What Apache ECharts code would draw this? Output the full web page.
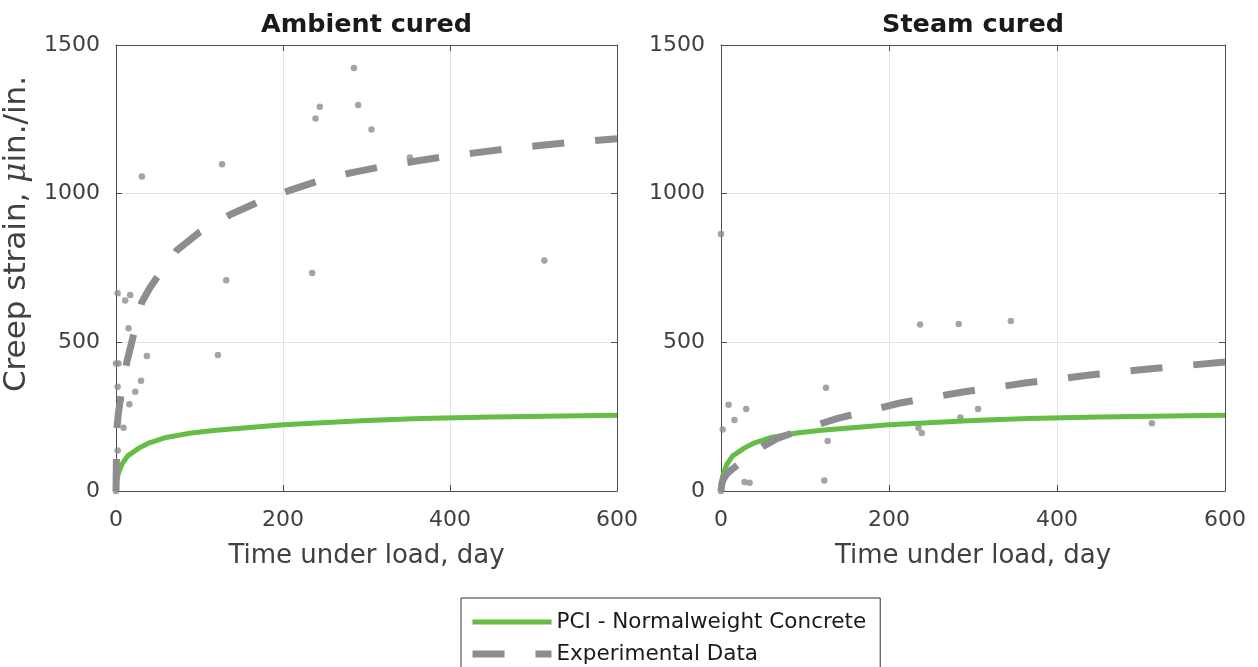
<!DOCTYPE html>
<html>
<head>
<meta charset="utf-8">
<script src="https://cdn.jsdelivr.net/npm/echarts@6/dist/echarts.min.js"></script>
<style>
  html, body { margin: 0; padding: 0; background: #ffffff; }
  #chart { width: 1258px; height: 667px; }
</style>
</head>
<body>
<div id="chart"></div>
<script>
// ---- data -------------------------------------------------------------
const panelTitles = ['Ambient cured', 'Steam cured'];
const xTickStep = 200;          // days
const yTickStep = 500;          // micro-strain

// PCI model curve (same in both panels)
const pciDays   = [0, 1, 2, 4, 7, 14, 28, 40, 60, 90, 120, 200, 300, 365, 450, 600];
const pciStrain = [0, 35, 50, 68, 90, 118, 145, 162, 180, 195, 204, 223, 237, 244, 249, 255];

// fitted experimental trend, ambient cured
const ambFitDays   = [0, 1, 3, 6, 13, 21, 31, 41, 52, 73, 100, 137, 173, 207, 245, 281, 320, 356, 394, 432, 471, 510, 547, 600];
const ambFitStrain = [0, 210, 265, 320, 434, 525, 636, 685, 730, 810, 870, 930, 975, 1010, 1045, 1070, 1092, 1108, 1125, 1138, 1152, 1163, 1173, 1185];

// fitted experimental trend, steam cured
const steamFitDays   = [0, 1, 3, 7, 14, 20, 30, 50, 67, 100, 140, 213, 288, 364, 439, 515, 600];
const steamFitStrain = [0, 25, 40, 58, 75, 88, 110, 150, 177, 210, 245, 296, 333, 364, 390, 412, 434];

// measured specimens, ambient cured
const ambDays   = [285, 244, 239, 290, 306, 352, 127, 31, 513, 235, 132, 2, 17, 11, 15, 37, 122, 0, 3, 2, 30, 23, 16, 9, 2, 0];
const ambStrain = [1423, 1292, 1253, 1298, 1216, 1122, 1099, 1058, 775, 733, 709, 665, 659, 641, 547, 454, 457, 429, 429, 351, 371, 334, 292, 213, 136, 0];

// measured specimens, steam cured
const steamDays   = [0, 237, 283, 345, 125, 9, 30, 16, 2, 306, 285, 513, 235, 239, 127, 28, 34, 123, 0];
const steamStrain = [864, 560, 562, 572, 347, 290, 276, 239, 207, 276, 247, 228, 213, 195, 168, 30, 28, 35, 0];

// ---- styling ----------------------------------------------------------
const axisColor  = '#4d4d4d';
const labelColor = '#404040';
const gridColor  = '#e3e3e3';
const green = '#66bd45';
const grey  = '#8d8d91';
const sans  = 'DejaVu Sans';

const pairs = (xs, ys) => xs.map((x, i) => [x, ys[i]]);
const plainNumber = v => String(v);

const grids = [
  { left: 116, top: 45, width: 501, height: 446 },
  { left: 721, top: 45, width: 504, height: 446 }
];

function boxAxisBase(gi) {
  return {
    type: 'value', gridIndex: gi,
    axisLine: { show: true, onZero: false, lineStyle: { color: axisColor, width: 1 } },
    axisTick: { show: true, inside: true, length: 6, lineStyle: { color: axisColor, width: 1 } }
  };
}

const xAxes = [];
const yAxes = [];
panelTitles.forEach((title, gi) => {
  xAxes.push(Object.assign(boxAxisBase(gi), {
    position: 'bottom', min: 0, max: 600, interval: xTickStep,
    axisLabel: { show: true, margin: 18, fontFamily: sans, fontSize: 22, color: labelColor, formatter: plainNumber },
    splitLine: { show: true, lineStyle: { color: gridColor, width: 1 } },
    name: 'Time under load, day', nameLocation: 'middle', nameGap: 52,
    nameTextStyle: { fontFamily: sans, fontSize: 26, color: labelColor }
  }));
  xAxes.push(Object.assign(boxAxisBase(gi), {
    position: 'top', min: 0, max: 600, interval: xTickStep,
    axisLabel: { show: false }, splitLine: { show: false },
    name: title, nameLocation: 'middle', nameGap: 7,
    nameTextStyle: { fontFamily: sans, fontSize: 25.5, fontWeight: 'bold', color: '#1a1a1a' }
  }));
  const left = Object.assign(boxAxisBase(gi), {
    position: 'left', min: 0, max: 1500, interval: yTickStep,
    axisLabel: { show: true, margin: 16, fontFamily: sans, fontSize: 22, color: labelColor, formatter: plainNumber },
    splitLine: { show: true, lineStyle: { color: gridColor, width: 1 } }
  });
  if (gi === 0) {
    Object.assign(left, {
      name: 'Creep strain, {mu|μ}in./in.', nameLocation: 'middle', nameGap: 84,
      nameTextStyle: {
        fontFamily: sans, fontSize: 31, color: labelColor, padding: [0, 0, 0, 68],
        rich: { mu: { fontFamily: 'DejaVu Serif', fontStyle: 'italic', fontSize: 31, color: labelColor } }
      }
    });
  }
  yAxes.push(left);
  yAxes.push(Object.assign(boxAxisBase(gi), {
    position: 'right', min: 0, max: 1500, interval: yTickStep,
    axisLabel: { show: false }, splitLine: { show: false }
  }));
});

function panelSeries(gi, days, strain, fitDays, fitStrain) {
  const xi = gi * 2, yi = gi * 2;
  return [
    {
      name: 'specimens', type: 'scatter', xAxisIndex: xi, yAxisIndex: yi,
      data: pairs(days, strain), symbol: 'circle', symbolSize: 6.5,
      itemStyle: { color: grey }, clip: false, silent: true
    },
    {
      name: 'PCI - Normalweight Concrete', type: 'line', xAxisIndex: xi, yAxisIndex: yi,
      data: pairs(pciDays, pciStrain), symbol: 'none', showSymbol: false, clip: false,
      lineStyle: { color: green, width: 5, cap: 'butt', join: 'round' }, itemStyle: { color: green }
    },
    {
      name: 'Experimental Data', type: 'line', xAxisIndex: xi, yAxisIndex: yi,
      data: pairs(fitDays, fitStrain), symbol: 'none', showSymbol: false, clip: false,
      lineStyle: { color: grey, width: 7, type: [32, 31], cap: 'butt', join: 'round' }, itemStyle: { color: grey }
    }
  ];
}

const option = {
  animation: false,
  backgroundColor: '#ffffff',
  grid: grids,
  xAxis: xAxes,
  yAxis: yAxes,
  legend: {
    type: 'plain', orient: 'horizontal', left: 461, top: 598, width: 400,
    data: ['PCI - Normalweight Concrete', 'Experimental Data'],
    itemWidth: 79, itemHeight: 2, itemGap: 10,
    padding: [13, 14, 24, 8],
    borderColor: '#333333', borderWidth: 1, borderRadius: 0, backgroundColor: '#ffffff',
    textStyle: { fontFamily: sans, fontSize: 21.5, color: '#1a1a1a', lineHeight: 22 },
    lineStyle: { width: 'inherit' },
    itemStyle: { opacity: 0 },
    selectedMode: false
  },
  series: [
    ...panelSeries(0, ambDays, ambStrain, ambFitDays, ambFitStrain),
    ...panelSeries(1, steamDays, steamStrain, steamFitDays, steamFitStrain)
  ]
};

const chart = echarts.init(document.getElementById('chart'), null, { renderer: 'canvas' });
chart.setOption(option);
</script>
</body>
</html>
